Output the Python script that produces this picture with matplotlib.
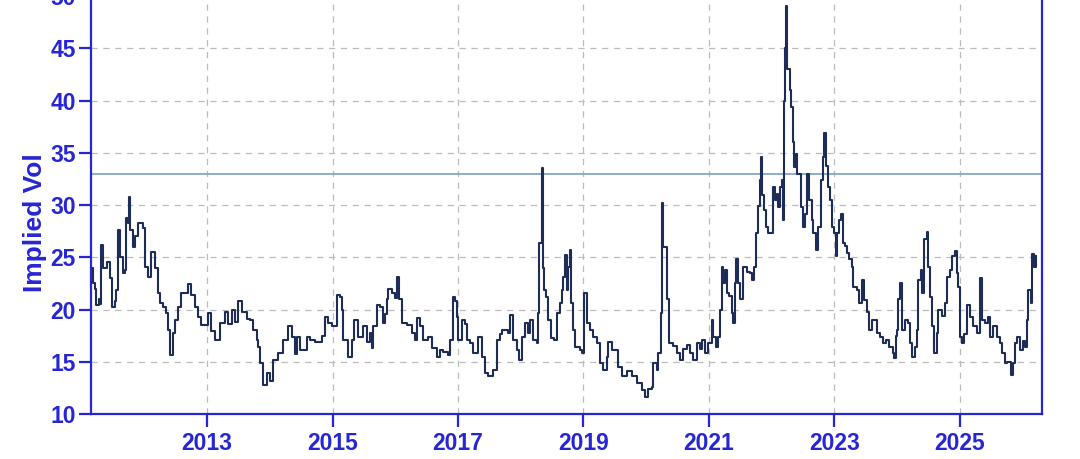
import matplotlib
import numpy as np
import matplotlib.pyplot as plt
matplotlib.use('Agg')

# implied vol (decimal year, vol)
years_2011 = [2011.15, 2011.18, 2011.22, 2011.23, 2011.28, 2011.29, 2011.31, 2011.34, 2011.41, 2011.45,
              2011.49, 2011.53, 2011.55, 2011.58, 2011.61, 2011.66, 2011.69, 2011.71, 2011.74, 2011.76,
              2011.77, 2011.82, 2011.85, 2011.90, 2011.98, 2012.01, 2012.06, 2012.11, 2012.17, 2012.22,
              2012.25, 2012.30, 2012.35, 2012.38, 2012.41, 2012.46, 2012.49, 2012.54, 2012.59, 2012.70,
              2012.74, 2012.81, 2012.86, 2012.90, 2013.02, 2013.06, 2013.13, 2013.21, 2013.29]
vol_2011 = [24.0, 22.5, 22.0, 20.4, 21.0, 20.5, 26.2, 24.0, 24.5, 23.0,
            20.2, 20.8, 21.9, 27.6, 25.0, 23.5, 23.8, 28.8, 28.3, 30.8,
            27.6, 26.0, 27.0, 28.3, 27.8, 24.1, 23.1, 25.5, 24.0, 21.6,
            20.6, 20.2, 19.7, 18.0, 15.6, 17.8, 19.0, 20.2, 21.6, 22.4,
            21.4, 20.2, 19.3, 18.5, 19.7, 17.9, 17.1, 18.7, 19.8]

years_2013 = [2013.33, 2013.40, 2013.45, 2013.49, 2013.56, 2013.64, 2013.69, 2013.73, 2013.80, 2013.81,
              2013.84, 2013.89, 2013.96, 2014.00, 2014.05, 2014.13, 2014.21, 2014.29, 2014.35, 2014.40,
              2014.43, 2014.48, 2014.59, 2014.64, 2014.72, 2014.83, 2014.88, 2014.93, 2014.99, 2015.07,
              2015.12, 2015.15, 2015.17, 2015.25, 2015.31, 2015.34, 2015.41, 2015.49]
vol_2013 = [18.6, 20.0, 18.8, 20.8, 19.8, 19.1, 19.0, 18.0, 17.1, 16.4,
            14.9, 12.8, 13.9, 13.2, 15.2, 15.8, 17.1, 18.4, 17.4, 15.7,
            17.4, 16.1, 17.4, 17.1, 16.9, 17.5, 19.3, 18.7, 18.4, 21.4,
            21.2, 20.0, 17.1, 15.5, 17.1, 19.0, 17.4, 18.4]

years_2015 = [2015.55, 2015.60, 2015.63, 2015.65, 2015.71, 2015.76, 2015.80, 2015.84, 2015.87, 2015.88,
              2015.95, 2016.00, 2016.03, 2016.06, 2016.11, 2016.19, 2016.27, 2016.31, 2016.35, 2016.39,
              2016.44, 2016.52, 2016.59, 2016.67, 2016.71, 2016.76, 2016.84, 2016.87, 2016.92, 2016.95,
              2016.98, 2017.00, 2017.06, 2017.11, 2017.14, 2017.19, 2017.24, 2017.32, 2017.38, 2017.43,
              2017.48, 2017.56, 2017.62, 2017.67]
vol_2015 = [16.9, 17.8, 16.3, 18.4, 20.4, 20.2, 18.7, 19.6, 21.0, 22.0,
            21.6, 21.1, 23.1, 21.0, 18.7, 18.5, 17.8, 17.1, 19.2, 18.4,
            17.1, 17.4, 16.3, 15.5, 16.1, 15.9, 15.6, 17.1, 21.2, 20.8,
            19.3, 17.1, 19.0, 18.6, 17.1, 16.8, 15.8, 17.4, 15.5, 13.9,
            13.6, 14.2, 17.1, 17.7]

years_2017 = [2017.70, 2017.75, 2017.80, 2017.83, 2017.86, 2017.88, 2017.94, 2017.97, 2018.02, 2018.07,
              2018.12, 2018.15, 2018.20, 2018.26, 2018.27, 2018.29, 2018.34, 2018.35, 2018.37, 2018.40,
              2018.43, 2018.48, 2018.53, 2018.58, 2018.63, 2018.66, 2018.67, 2018.71, 2018.74, 2018.75,
              2018.78, 2018.80, 2018.83, 2018.86, 2018.94, 2018.98, 2019.01, 2019.06, 2019.10, 2019.15,
              2019.22, 2019.26, 2019.31, 2019.37, 2019.39, 2019.45, 2019.50, 2019.55, 2019.61, 2019.69,
              2019.77]
vol_2017 = [18.0, 18.0, 17.8, 19.5, 19.5, 17.1, 16.1, 15.2, 17.4, 18.7,
            17.8, 19.0, 17.1, 16.8, 19.7, 26.4, 33.5, 24.0, 21.9, 21.2,
            19.0, 17.3, 17.1, 19.7, 20.6, 21.9, 23.1, 25.2, 21.9, 24.1,
            25.7, 20.6, 18.0, 16.4, 16.1, 15.8, 21.6, 18.7, 18.0, 17.4,
            16.8, 14.9, 14.2, 15.5, 16.9, 16.1, 16.1, 14.5, 13.6, 14.1,
            13.6]

years_2019 = [2019.82, 2019.85, 2019.93, 2019.98, 2020.03, 2020.09, 2020.11, 2020.17, 2020.19, 2020.23,
              2020.25, 2020.27, 2020.33, 2020.36, 2020.43, 2020.49, 2020.54, 2020.59, 2020.65, 2020.70,
              2020.74, 2020.81, 2020.86, 2020.89, 2020.94, 2020.98, 2021.05, 2021.06, 2021.11, 2021.14,
              2021.18, 2021.21, 2021.22, 2021.25, 2021.29, 2021.32, 2021.37, 2021.38, 2021.41, 2021.43,
              2021.46, 2021.49, 2021.54, 2021.61, 2021.65, 2021.69, 2021.72, 2021.75, 2021.78, 2021.81,
              2021.83]
vol_2019 = [13.6, 13.0, 12.3, 11.6, 12.4, 12.6, 14.9, 14.2, 15.8, 19.7,
            30.2, 26.0, 21.0, 16.8, 16.5, 15.8, 15.2, 16.2, 16.6, 15.8,
            15.2, 16.8, 16.2, 17.1, 15.8, 16.8, 19.0, 17.4, 16.4, 17.4,
            20.0, 24.1, 22.5, 23.8, 21.6, 21.3, 19.7, 18.7, 22.5, 24.8,
            22.5, 21.0, 24.1, 23.6, 23.5, 22.8, 24.1, 27.3, 29.9, 32.4,
            34.6]

years_2021 = [2021.84, 2021.88, 2021.91, 2021.94, 2021.97, 2022.02, 2022.05, 2022.08, 2022.10, 2022.13,
              2022.16, 2022.18, 2022.20, 2022.21, 2022.23, 2022.24, 2022.29, 2022.31, 2022.34, 2022.35,
              2022.39, 2022.40, 2022.43, 2022.47, 2022.50, 2022.53, 2022.56, 2022.59, 2022.64, 2022.66,
              2022.71, 2022.74, 2022.78, 2022.82, 2022.83, 2022.86, 2022.90, 2022.93, 2022.96, 2022.99,
              2023.02, 2023.04, 2023.07, 2023.10, 2023.14, 2023.17, 2023.20, 2023.23, 2023.28, 2023.29,
              2023.36, 2023.39, 2023.44, 2023.47, 2023.52, 2023.55, 2023.60, 2023.65, 2023.68, 2023.72,
              2023.77, 2023.82, 2023.87, 2023.93, 2023.95]
vol_2021 = [31.0, 29.5, 27.9, 27.3, 27.3, 31.7, 30.5, 31.1, 29.8, 31.7,
            32.4, 28.6, 40.0, 45.0, 49.0, 43.0, 41.0, 39.4, 36.0, 33.6,
            34.9, 33.0, 33.0, 29.8, 27.9, 29.1, 33.0, 30.5, 28.6, 27.3,
            25.7, 27.9, 32.4, 34.6, 36.9, 33.7, 31.7, 30.5, 27.9, 27.3,
            25.1, 27.3, 28.6, 29.1, 26.4, 26.1, 25.4, 24.8, 24.1, 22.2,
            21.9, 20.6, 22.8, 20.9, 19.8, 18.0, 19.0, 19.0, 17.8, 17.4,
            16.8, 17.1, 16.4, 15.8, 15.4]

years_2024 = [2023.98, 2024.00, 2024.01, 2024.04, 2024.08, 2024.12, 2024.17, 2024.20, 2024.23, 2024.28,
              2024.31, 2024.33, 2024.38, 2024.39, 2024.43, 2024.47, 2024.49, 2024.52, 2024.55, 2024.59,
              2024.63, 2024.65, 2024.71, 2024.76, 2024.79, 2024.84, 2024.87, 2024.92, 2024.95, 2024.97,
              2025.00, 2025.03, 2025.06, 2025.11, 2025.16, 2025.21, 2025.27, 2025.32, 2025.35, 2025.40,
              2025.45, 2025.48, 2025.53, 2025.59, 2025.64, 2025.67, 2025.72, 2025.76, 2025.81, 2025.84,
              2025.88, 2025.91, 2025.96, 2026.00, 2026.04, 2026.07, 2026.08, 2026.13, 2026.15, 2026.18,
              2026.21]
vol_2024 = [17.5, 18.0, 21.0, 22.5, 18.0, 19.0, 18.7, 16.8, 15.5, 16.4,
            18.0, 22.8, 23.8, 21.6, 26.7, 27.4, 24.1, 21.2, 18.4, 15.8,
            17.8, 20.0, 19.4, 20.6, 23.1, 23.8, 25.1, 25.6, 23.5, 22.2,
            17.4, 16.8, 17.7, 20.4, 19.3, 18.4, 17.8, 23.0, 19.0, 18.7,
            19.3, 17.4, 18.4, 17.4, 16.8, 15.8, 14.9, 15.0, 13.7, 14.9,
            16.8, 17.4, 16.1, 17.0, 16.4, 19.0, 21.9, 20.6, 25.3, 24.1,
            25.1]

ref_level = 33
x_ticks = [2013, 2015, 2017, 2019, 2021, 2023, 2025]
y_ticks = [10, 15, 20, 25, 30, 35, 40, 45, 50]

blue = '#2626d4'
navy = '#1e2c58'

years = np.array(years_2011 + years_2013 + years_2015 + years_2017 + years_2019 + years_2021 + years_2024)
vol = np.array(vol_2011 + vol_2013 + vol_2015 + vol_2017 + vol_2019 + vol_2021 + vol_2024)

fig = plt.figure(figsize=(10.8, 4.59), dpi=100)
ax = fig.add_axes([0.0843, 0.098, 0.8805, 0.9107])

ax.grid(True, ls=(0, (5, 4.5)), color='#bcbcbc', lw=0.9)
ax.set_axisbelow(True)
ax.axhline(ref_level, color='#86a6c8', lw=1.3, zorder=2)
ax.plot(years, vol, color=navy, lw=1.5, drawstyle='steps-post', zorder=3)

ax.set_xlim(2011.15, 2026.31)
ax.set_ylim(10, 50)
ax.set_xticks(x_ticks)
ax.set_yticks(y_ticks)

for side in ['left', 'bottom', 'right', 'top']:
    ax.spines[side].set_color(blue)
    ax.spines[side].set_linewidth(1.6)

ax.tick_params(axis='both', direction='out', length=9, width=1.6, color=blue,
               labelcolor=blue, labelsize=16.5, pad=2)
ax.tick_params(axis='x', pad=4)
for lab in ax.get_xticklabels() + ax.get_yticklabels():
    lab.set_fontfamily('Liberation Sans')
    lab.set_fontweight('bold')

ax.set_ylabel('Implied Vol', color=blue, fontsize=19, fontweight='bold',
              family='Liberation Sans')
ax.yaxis.set_label_coords(-0.046, 0.459)

fig.savefig('out.png', dpi=100)
